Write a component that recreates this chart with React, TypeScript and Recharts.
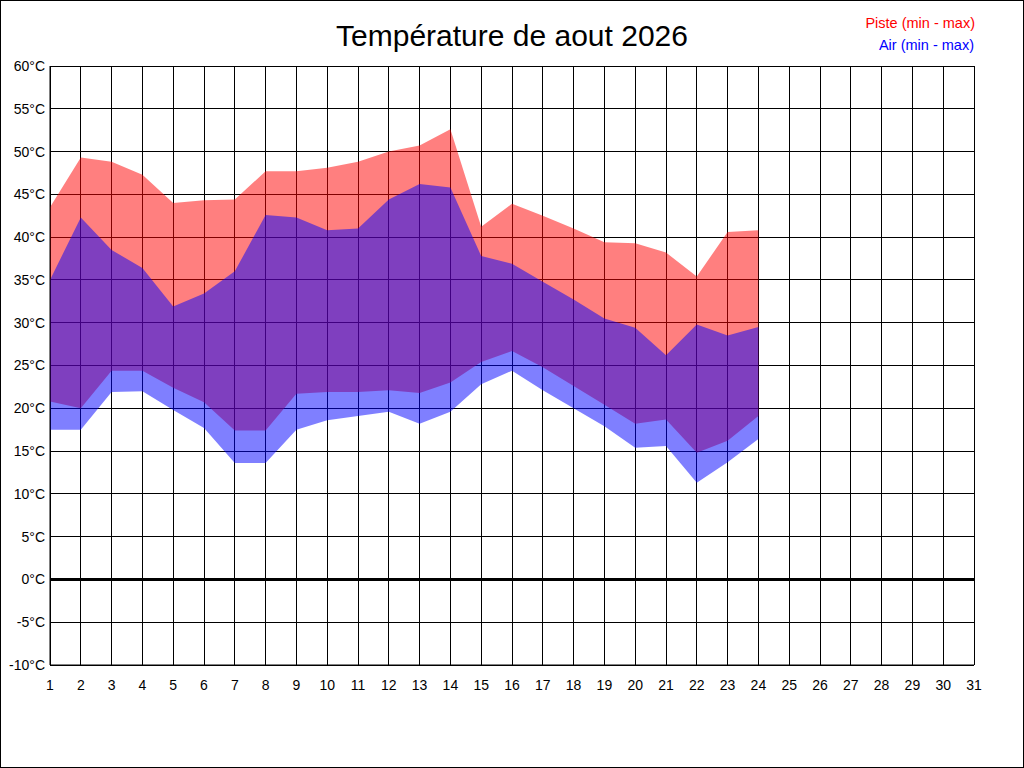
import { AreaChart, Area, XAxis, YAxis, CartesianGrid, ReferenceLine } from 'recharts'

const days = [1, 2, 3, 4, 5, 6, 7, 8, 9, 10, 11, 12, 13, 14, 15, 16, 17, 18, 19, 20, 21, 22, 23, 24]
const pisteMin = [20.8, 20.0, 24.4, 24.4, 22.4, 20.7, 17.4, 17.4, 21.7, 21.9, 21.9, 22.1, 21.8, 23.0, 25.4, 26.7, 24.8, 22.6, 20.4, 18.2, 18.7, 14.8, 16.2, 19.1]
const pisteMax = [43.5, 49.3, 48.8, 47.3, 44.0, 44.3, 44.4, 47.7, 47.7, 48.1, 48.8, 50.0, 50.7, 52.6, 41.2, 43.9, 42.5, 41.0, 39.4, 39.3, 38.2, 35.4, 40.6, 40.8]
const airMin = [17.5, 17.5, 21.9, 22.0, 19.8, 17.7, 13.6, 13.6, 17.5, 18.6, 19.1, 19.6, 18.2, 19.6, 22.8, 24.4, 22.1, 20.0, 17.9, 15.4, 15.6, 11.3, 13.7, 16.4]
const airMax = [35.0, 42.3, 38.5, 36.4, 31.9, 33.4, 36.0, 42.6, 42.3, 40.8, 41.0, 44.4, 46.2, 45.8, 37.8, 36.9, 34.8, 32.7, 30.5, 29.4, 26.2, 29.8, 28.5, 29.5]

const xTicks = Array.from({ length: 31 }, (_, i) => i + 1)
const yTicks = [-10, -5, 0, 5, 10, 15, 20, 25, 30, 35, 40, 45, 50, 55, 60]

const data = days.map((day, i) => ({
  day,
  piste: [pisteMin[i], pisteMax[i]],
  air: [airMin[i], airMax[i]],
}))

const font = 'Arial, "Liberation Sans", sans-serif'
const tick = { fontSize: 14, fill: '#000', fontFamily: font }

export default function App() {
  return (
    <div style={{ position: 'absolute', left: 0, top: 0, width: 1024, height: 768, background: '#fff' }}>
      <style>{'body{margin:0}.recharts-cartesian-grid line{shape-rendering:crispEdges}'}</style>
      <AreaChart width={1024} height={768} data={data} margin={{ top: 66, right: 50, left: 0, bottom: 73 }}>
        <CartesianGrid stroke="#000" strokeWidth={1} />
        <XAxis
          dataKey="day"
          type="number"
          domain={[1, 31]}
          ticks={xTicks}
          interval={0}
          height={30}
          tick={tick}
          tickLine={false}
          tickSize={10}
          tickMargin={5}
          axisLine={{ stroke: '#000' }}
        />
        <YAxis
          type="number"
          domain={[-10, 60]}
          ticks={yTicks}
          interval={0}
          width={50}
          tick={tick}
          tickLine={false}
          tickSize={3}
          tickMargin={2}
          tickFormatter={(v) => `${v}°C`}
          axisLine={{ stroke: '#000' }}
        />
        <Area dataKey="piste" type="linear" stroke="none" fill="#ff0000" fillOpacity={0.5} dot={false} activeDot={false} isAnimationActive={false} />
        <Area dataKey="air" type="linear" stroke="none" fill="#0000ff" fillOpacity={0.5} dot={false} activeDot={false} isAnimationActive={false} />
        <ReferenceLine y={0} stroke="#000" strokeWidth={3} />
      </AreaChart>
      <svg width={1024} height={768} style={{ position: 'absolute', left: 0, top: 0, pointerEvents: 'none' }}>
        <text x={512} y={46} textAnchor="middle" fontSize={30} fontFamily={font} fill="#000">Température de aout 2026</text>
        <text x={975} y={28} textAnchor="end" fontSize={14.5} fontFamily={font} fill="#ff0000">Piste (min - max)</text>
        <text x={974} y={50} textAnchor="end" fontSize={14.5} fontFamily={font} fill="#0000ff">Air (min - max)</text>
        <rect x={0.5} y={0.5} width={1023} height={767} fill="none" stroke="#000" strokeWidth={1} />
      </svg>
    </div>
  )
}
